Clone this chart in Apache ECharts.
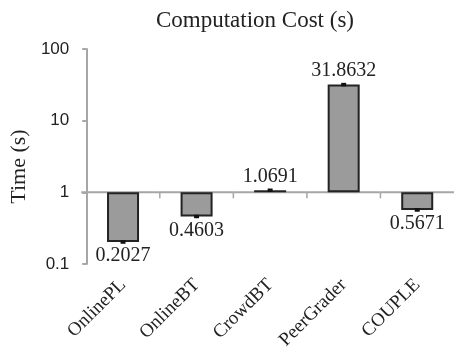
<!DOCTYPE html>
<html>
<head>
<meta charset="utf-8">
<script src="https://cdn.jsdelivr.net/npm/echarts@6/dist/echarts.min.js"></script>
<style>
  html, body { margin: 0; padding: 0; background: #fff; }
  #chart { width: 454px; height: 352px; }
</style>
</head>
<body>
<div id="chart"></div>
<script>
// Mean run time per method, seconds
const methods = ['OnlinePL', 'OnlineBT', 'CrowdBT', 'PeerGrader', 'COUPLE'];
const times = [0.2027, 0.4603, 1.0691, 31.8632, 0.5671];
// Spread around each mean (very small)
const spreads = [0.004, 0.008, 0.015, 0.5, 0.01];
const yTicks = [0.1, 1, 10, 100];
// Bars grow up or down from this level
const baseValue = 1;

const serif = '"Liberation Serif", "DejaVu Serif", serif';
const sans = '"Liberation Sans", Arial, sans-serif';
const axisGray = '#a6a6a6';

const chart = echarts.init(document.getElementById('chart'), null, { renderer: 'canvas' });

const barData = times.map(v => ({
  value: v,
  label: { position: v >= baseValue ? 'top' : 'bottom' }
}));

const errData = times.map((v, i) => [i, v, spreads[i]]);

chart.setOption({
  animation: false,
  backgroundColor: '#fff',
  title: {
    text: 'Computation Cost (s)',
    left: 250,
    top: 4,
    textAlign: 'center',
    textStyle: { fontFamily: serif, fontSize: 23, fontWeight: 'normal', color: '#222' }
  },
  grid: { left: 79, top: 49, width: 381, height: 217, containLabel: false },
  xAxis: {
    type: 'category',
    data: methods,
    position: 'bottom',
    axisLine: { show: false, onZero: false },
    axisTick: { show: false },
    axisLabel: {
      rotate: 45,
      margin: 18,
      interval: 0,
      fontFamily: serif,
      fontSize: 19,
      color: '#222'
    }
  },
  yAxis: {
    type: 'log',
    logBase: 10,
    min: yTicks[0],
    max: yTicks[yTicks.length - 1],
    name: 'Time (s)',
    nameLocation: 'middle',
    nameRotate: 90,
    nameGap: 49,
    nameTextStyle: { fontFamily: serif, fontSize: 22, color: '#222', padding: [0, 20, 0, 0] },
    axisLine: { show: true, onZero: false, lineStyle: { color: axisGray, width: 2 } },
    axisTick: { show: true, length: 4, lineStyle: { color: axisGray, width: 2 } },
    splitLine: { show: false },
    axisLabel: {
      margin: 17,
      fontFamily: sans,
      fontSize: 17,
      color: '#222',
      formatter: v => String(v)
    }
  },
  series: [
    {
      type: 'bar',
      data: barData,
      barWidth: 32,
      itemStyle: { color: '#9b9b9b', borderColor: '#232323', borderWidth: 2 },
      label: {
        show: true,
        distance: 4,
        fontFamily: serif,
        fontSize: 20,
        color: '#222',
        formatter: p => p.value.toFixed(4)
      },
      z: 3
    },
    {
      // baseline at Time = 1 across each category band, with boundary ticks below it
      type: 'custom',
      data: errData,
      z: 2,
      silent: true,
      renderItem: (params, api) => {
        const x = api.value(0);
        const base = api.coord([x, baseValue]);
        const nb = api.coord([x + 1 < methods.length ? x + 1 : x - 1, baseValue]);
        const half = Math.abs(nb[0] - base[0]) / 2;
        const left = base[0] - half - (x === 0 ? 5 : 0);
        const children = [
          {
            type: 'rect',
            shape: { x: left, y: base[1] - 1, width: base[0] + half - left, height: 2 },
            style: { fill: axisGray }
          }
        ];
        if (x > 0) {
          children.push({
            type: 'rect',
            shape: { x: base[0] - half - 0.75, y: base[1], width: 1.5, height: 6 },
            style: { fill: axisGray }
          });
        }
        return { type: 'group', children };
      }
    },
    {
      // small error marks at each bar end
      type: 'custom',
      data: errData,
      z: 4,
      silent: true,
      renderItem: (params, api) => {
        const x = api.value(0);
        const v = api.value(1);
        const e = api.value(2);
        const hi = api.coord([x, v + e]);
        const lo = api.coord([x, v - e]);
        const h = Math.max(3.5, lo[1] - hi[1]);
        const cy = (hi[1] + lo[1]) / 2;
        return {
          type: 'rect',
          shape: { x: hi[0] - 2.5, y: cy - h / 2, width: 5, height: h },
          style: { fill: '#111' }
        };
      }
    }
  ]
});
</script>
</body>
</html>
